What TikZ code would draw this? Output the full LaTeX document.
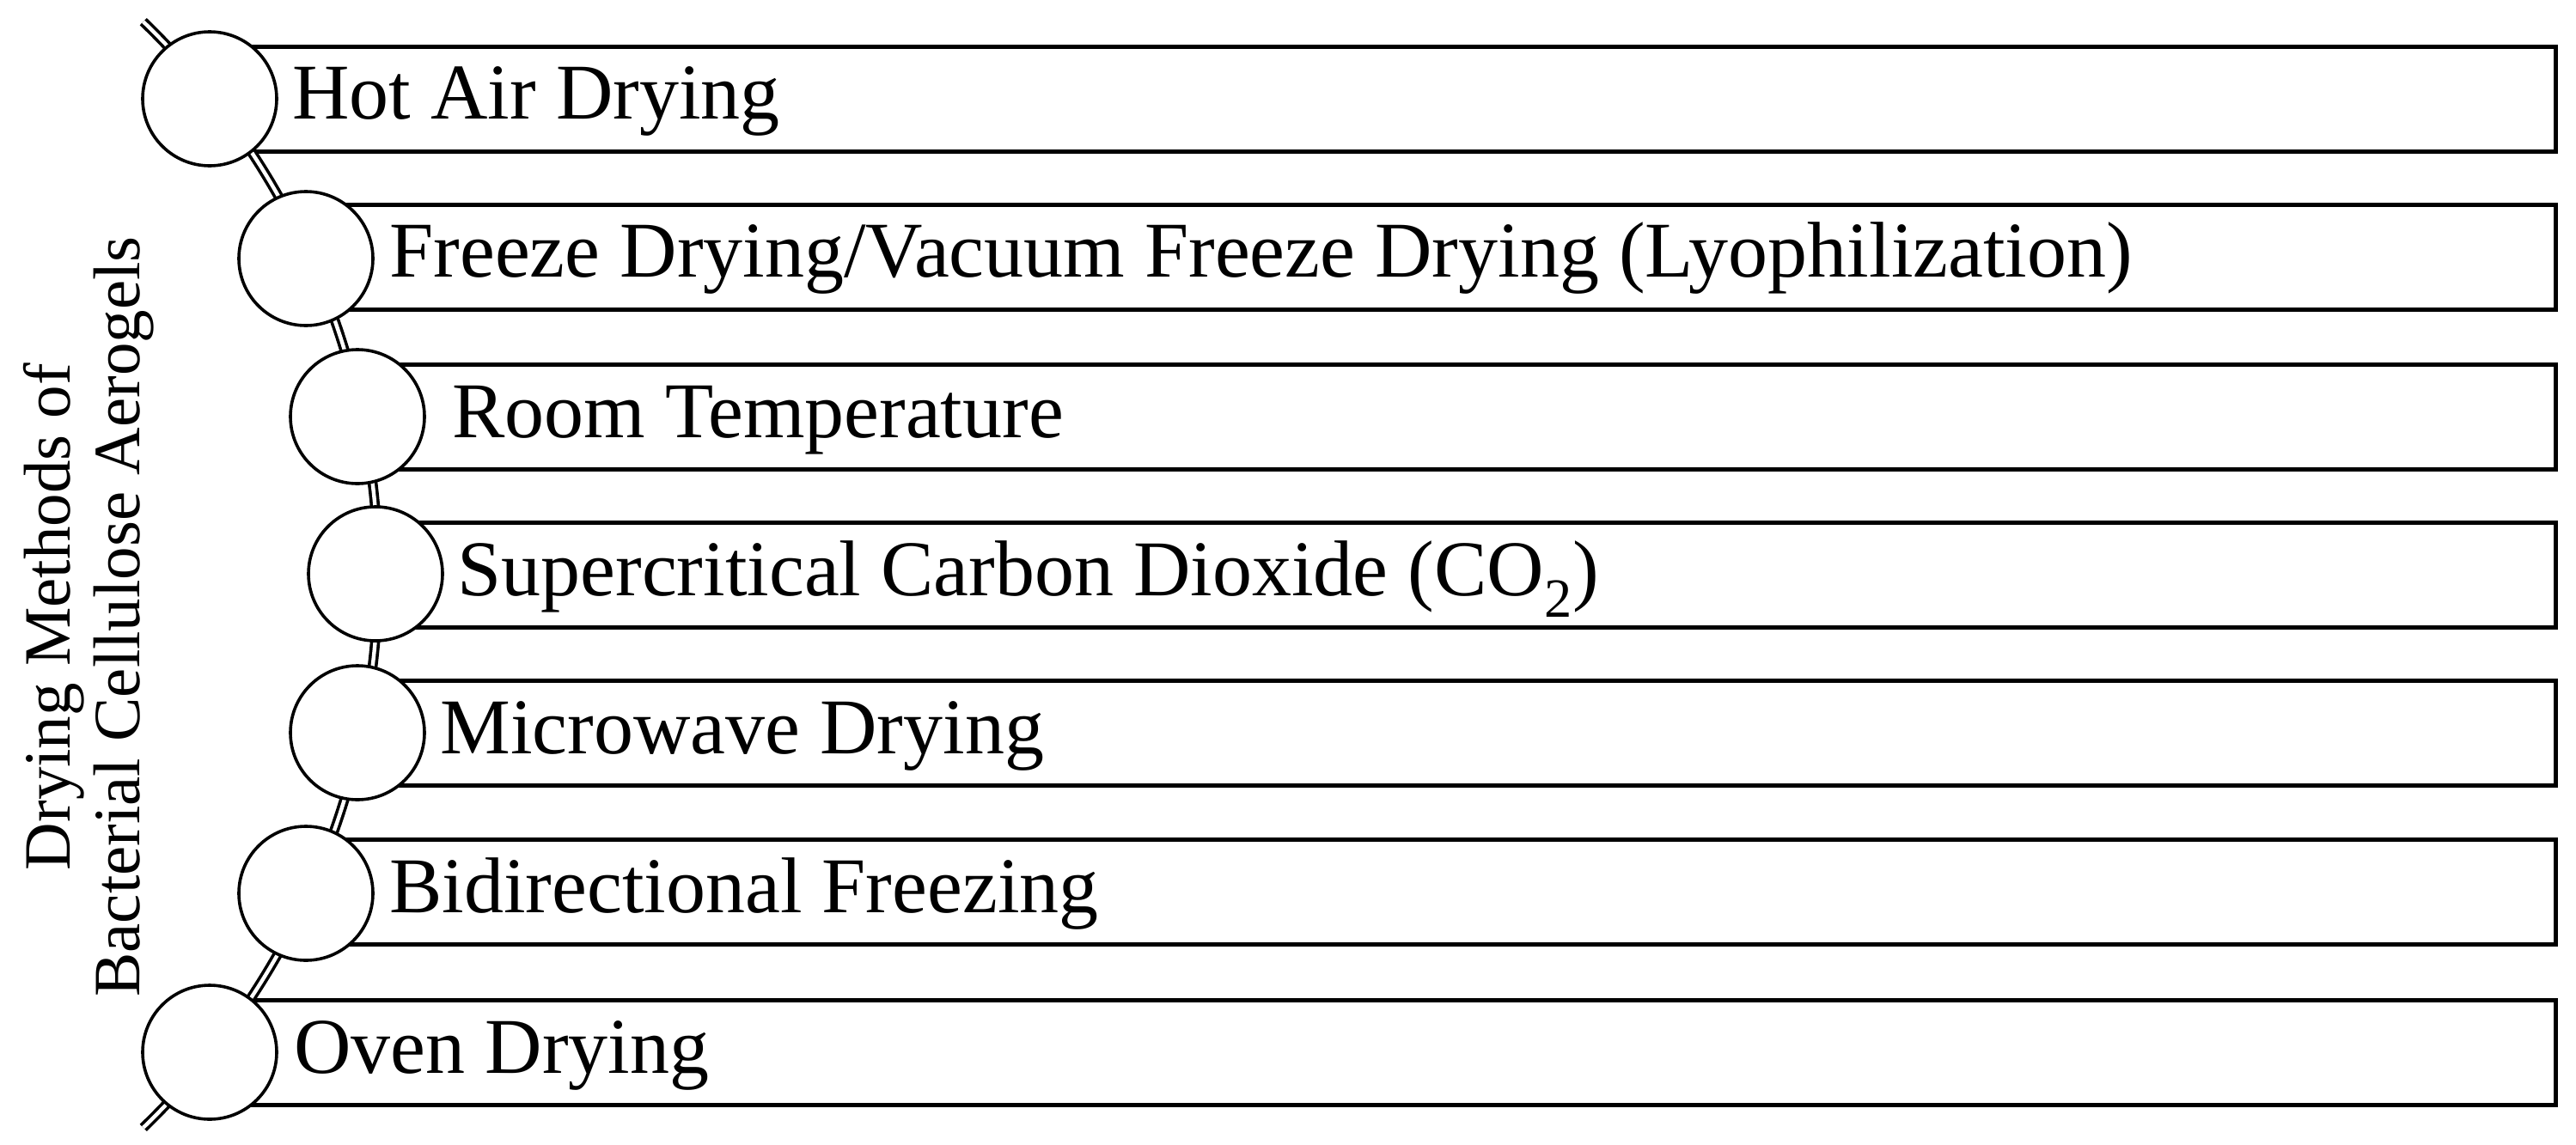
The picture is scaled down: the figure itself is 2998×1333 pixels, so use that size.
\documentclass[tikz,border=0pt]{standalone}
\usepackage{fontspec}
\setmainfont{Liberation Serif}
\begin{document}
\begin{tikzpicture}[x=0.5pt,y=-0.5pt,
  boxst/.style={draw=black, line width=2.5pt, rectangle, anchor=west, minimum height=61pt, inner sep=0pt},
  dot/.style={circle, draw=black, fill=white, line width=1.8pt, minimum size=78pt, inner sep=0pt},
  rail/.style={draw=black, line width=1.8pt, double=white, double distance=2.2pt},
  lbl/.style={anchor=base west, inner sep=0pt, font=\fontsize{46}{52}\selectfont},
  ttlst/.style={rotate=90, align=center, inner sep=0pt, font=\fontsize{38.5}{40.5}\selectfont}]
\useasboundingbox (0,0) rectangle (2998,1333);
% boxes
\node[boxst, minimum width=1364pt] (b1) at (244,115) {};
\node[boxst, minimum width=1308pt] (b2) at (356,299) {};
\node[boxst, minimum width=1278pt] (b3) at (416,485) {};
\node[boxst, minimum width=1267.5pt] (b4) at (437,669) {};
\node[boxst, minimum width=1278pt] (b5) at (416,853) {};
\node[boxst, minimum width=1308pt] (b6) at (356,1038) {};
\node[boxst, minimum width=1364pt] (b7) at (244,1225) {};
% rail
\coordinate (ac) at (-455,669);
\path (ac) ++(-46:895) coordinate (rt);
\draw[rail] (rt) arc[start angle=-46, end angle=46, radius=895];
% circles
\node[dot] (c1) at (244,115) {};
\node[dot] (c2) at (356,301) {};
\node[dot] (c3) at (416,485) {};
\node[dot] (c4) at (437,668) {};
\node[dot] (c5) at (416,853) {};
\node[dot] (c6) at (356,1040) {};
\node[dot] (c7) at (244,1225) {};
% texts
\node[lbl] (t1) at (340,138) {Hot Air Drying};
\node[lbl] (t2) at (453,322) {Freeze Drying/Vacuum Freeze Drying (Lyophilization)};
\node[lbl] (t3) at (526,509) {Room Temperature};
\node[lbl] (t4) at (532,693) {Supercritical Carbon Dioxide (CO\textsubscript{2})};
\node[lbl] (t5) at (512,877) {Microwave Drying};
\node[lbl] (t6) at (453,1062) {Bidirectional Freezing};
\node[lbl] (t7) at (342,1249) {Oven Drying};
% title
\node[ttlst] (ttl) at (103,718) {Drying Methods of\\Bacterial Cellulose Aerogels};
\end{tikzpicture}
\end{document}
